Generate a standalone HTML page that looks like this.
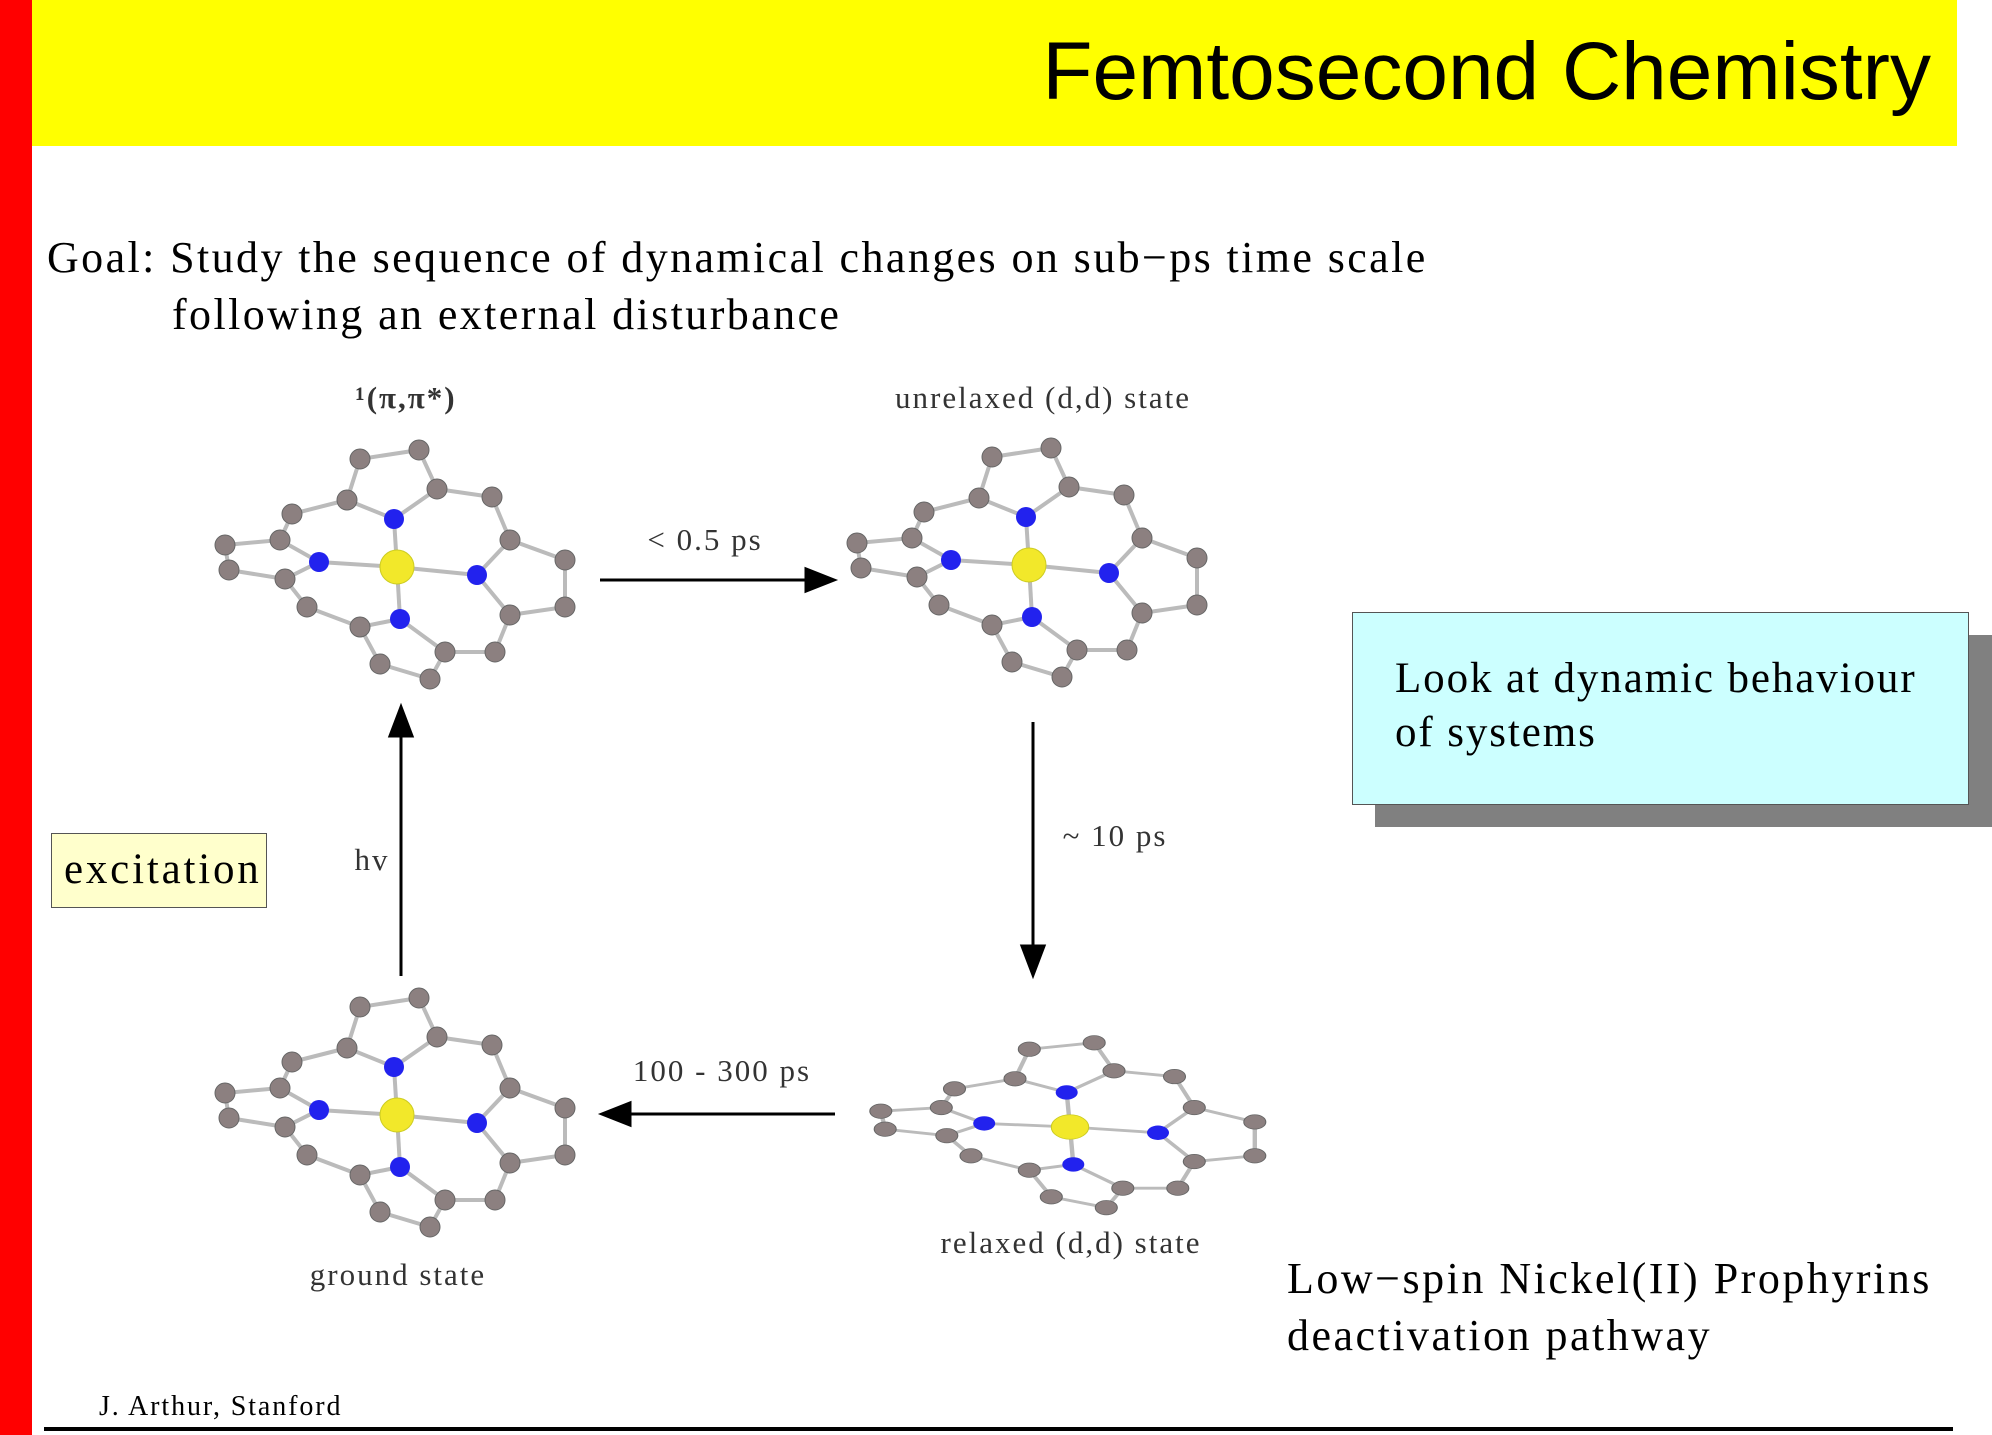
<!DOCTYPE html>
<html><head><meta charset="utf-8"><style>
html,body{margin:0;padding:0;background:#fff;}
body{width:1992px;height:1435px;position:relative;overflow:hidden;font-family:"Liberation Serif",serif;}
.a{position:absolute;white-space:nowrap;}
</style></head><body>
<div class="a" style="left:0;top:0;width:32px;height:1435px;background:#ff0000"></div>
<div class="a" style="left:32px;top:0;width:1925px;height:146px;background:#ffff00"></div>
<div class="a" style="right:61px;top:22px;font-family:'Liberation Sans',sans-serif;font-size:82px;color:#000;line-height:100px">Femtosecond Chemistry</div>
<div class="a" style="left:47px;top:230px;font-size:44px;line-height:56px;letter-spacing:2.4px">Goal: Study the sequence of dynamical changes on sub−ps time scale</div>
<div class="a" style="left:172px;top:287px;font-size:44px;line-height:56px;letter-spacing:2.4px">following an external disturbance</div>

<div class="a" style="left:51px;top:833px;width:214px;height:73px;background:#ffffcc;border:1px solid #555;"></div>
<div class="a" style="left:64px;top:842px;font-size:43px;line-height:56px;letter-spacing:2.8px">excitation</div>

<div class="a" style="left:1375px;top:635px;width:620px;height:192px;background:#808080"></div>
<div class="a" style="left:1352px;top:612px;width:615px;height:191px;background:#ccffff;border:1px solid #555;"></div>
<div class="a" style="left:1395px;top:652px;font-size:43px;line-height:54px;letter-spacing:1.9px">Look at dynamic behaviour<br>of systems</div>

<div class="a" style="left:1287px;top:1250px;font-size:44px;line-height:57px;letter-spacing:2.5px">Low−spin Nickel(II) Prophyrins<br>deactivation pathway</div>
<div class="a" style="left:99px;top:1390px;font-size:28px;line-height:34px;letter-spacing:1.9px">J. Arthur, Stanford</div>
<div class="a" style="left:44px;top:1427px;width:1909px;height:4px;background:#000"></div>

<svg class="a" style="left:0;top:0" width="1992" height="1435">
<defs>
<g id="m">
<g stroke="#bbb" stroke-width="4" fill="none">
<polyline points="-3,-48 -50,-67 -37,-108 22,-117 40,-78 -3,-48"/>
<line x1="-50" y1="-67" x2="-105" y2="-53"/><line x1="40" y1="-78" x2="95" y2="-70"/>
<polyline points="-78,-5 -117,-27 -172,-22 -168,3 -112,12 -78,-5"/>
<line x1="-105" y1="-53" x2="-117" y2="-27"/><line x1="-112" y1="12" x2="-90" y2="40"/>
<polyline points="3,52 -37,60 -17,97 33,112 48,85 3,52"/>
<line x1="-90" y1="40" x2="-37" y2="60"/><line x1="48" y1="85" x2="98" y2="85"/>
<polyline points="80,8 113,48 168,40 168,-7 113,-27 80,8"/>
<line x1="98" y1="85" x2="113" y2="48"/><line x1="95" y1="-70" x2="113" y2="-27"/>
<line x1="0" y1="0" x2="-3" y2="-48"/><line x1="0" y1="0" x2="-78" y2="-5"/><line x1="0" y1="0" x2="80" y2="8"/><line x1="0" y1="0" x2="3" y2="52"/>
</g>
<g fill="#8c8080" stroke="#666" stroke-width="1">
<circle cx="-37" cy="-108" r="10"/><circle cx="22" cy="-117" r="10"/><circle cx="40" cy="-78" r="10"/><circle cx="95" cy="-70" r="10"/>
<circle cx="-50" cy="-67" r="10"/><circle cx="-105" cy="-53" r="10"/><circle cx="-117" cy="-27" r="10"/><circle cx="-172" cy="-22" r="10"/>
<circle cx="-168" cy="3" r="10"/><circle cx="-112" cy="12" r="10"/><circle cx="-90" cy="40" r="10"/><circle cx="-37" cy="60" r="10"/>
<circle cx="-17" cy="97" r="10"/><circle cx="33" cy="112" r="10"/><circle cx="48" cy="85" r="10"/><circle cx="98" cy="85" r="10"/>
<circle cx="113" cy="48" r="10"/><circle cx="168" cy="40" r="10"/><circle cx="168" cy="-7" r="10"/><circle cx="113" cy="-27" r="10"/>
</g>
<g fill="#2222ee"><circle cx="-3" cy="-48" r="10"/><circle cx="-78" cy="-5" r="10"/><circle cx="80" cy="8" r="10"/><circle cx="3" cy="52" r="10"/></g>
<circle cx="0" cy="0" r="17" fill="#f2e82a" stroke="#cc2" stroke-width="1"/>
</g>
</defs>
<use href="#m" transform="translate(397,567)"/>
<use href="#m" transform="translate(1029,565)"/>
<use href="#m" transform="translate(397,1115)"/>
<use href="#m" transform="translate(1070,1127) scale(1.1,0.72)"/>
<g stroke="#000" stroke-width="3" fill="#000">
<line x1="600" y1="580" x2="810" y2="580"/><polygon points="834,580 806,569 806,591"/>
<line x1="1033" y1="722" x2="1033" y2="950"/><polygon points="1033,975 1022,946 1044,946"/>
<line x1="835" y1="1114" x2="626" y2="1114"/><polygon points="602,1114 630,1103 630,1125"/>
<line x1="401" y1="976" x2="401" y2="735"/><polygon points="401,707 390,736 412,736"/>
</g>
<g font-family="Liberation Serif, serif" font-size="31" fill="#333" text-anchor="middle" letter-spacing="2">
<text x="406" y="408" font-weight="bold">¹(π,π*)</text>
<text x="1043" y="408">unrelaxed (d,d) state</text>
<text x="705" y="550">&lt; 0.5 ps</text>
<text x="1115" y="846">~ 10 ps</text>
<text x="722" y="1081">100 - 300 ps</text>
<text x="372" y="870">hv</text>
<text x="398" y="1285">ground state</text>
<text x="1071" y="1253">relaxed (d,d) state</text>
</g>
</svg>
</body></html>
